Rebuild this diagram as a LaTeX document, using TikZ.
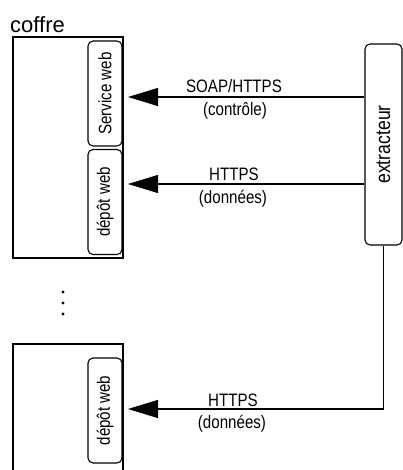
\documentclass[tikz,border=0pt]{standalone}
\usepackage{fontspec}
\setmainfont{Liberation Sans}
\newfontfamily\narrowsf[FakeStretch=0.84]{Liberation Sans}
\usetikzlibrary{arrows.meta}

\newcommand{\vtext}[1]{\rotatebox{90}{#1}}

\tikzset{
  comp/.style={draw, line width=1.1pt, rounded corners=5pt, minimum width=34pt,
    minimum height=105pt, inner sep=0pt, font=\narrowsf\fontsize{18}{21}\selectfont},
  flux/.style={line width=1.1pt, -{Triangle[length=30pt,width=18pt]}},
  lbl/.style={font=\narrowsf\fontsize{18}{21}\selectfont, inner sep=0pt, anchor=base},
  coffrebox/.style={line width=1.4pt}
}

\begin{document}
\begin{tikzpicture}[x=1pt,y=-1pt]
\useasboundingbox (0,0) rectangle (403,470);

% coffre du haut
\draw[coffrebox] (13,37) rectangle (123,258);
\node[anchor=base west, inner sep=0pt, font=\fontsize{22}{25}\selectfont] (coffre) at (10,33) {coffre};
\node[comp] (sw) at (105,93.5) {\vtext{Service web}};
\node[comp] (dw1) at (105,202) {\vtext{dépôt web}};

% les autres coffres
\foreach \y in {292,303,314}
  \fill (63,\y) circle (1.6pt);

% coffre du bas
\draw[coffrebox] (13,470) -- (13,344) -- (123,344) -- (123,470);
\node[comp] (dw2) at (105,410.5) {\vtext{dépôt web}};

% extracteur
\node[comp, minimum width=37pt, minimum height=201pt,
  font=\narrowsf\fontsize{21}{24}\selectfont] (ext) at (383.5,144.5) {\vtext{extracteur}};

\coordinate (t1) at (128,97);
\coordinate (t2) at (128,184);
\coordinate (t3) at (128,409);

\draw[flux] (ext.west |- t1) -- (t1);
\draw[flux] (ext.west |- t2) -- (t2);
\draw[flux] (ext.south) |- (t3);

\node[lbl] (p1) at (234,93) {SOAP/HTTPS};
\node[lbl] (c1) at (235,116) {(contrôle)};
\node[lbl] (p2) at (234,181) {HTTPS};
\node[lbl] (d2) at (233,203) {(données)};
\node[lbl] (p3) at (233,406) {HTTPS};
\node[lbl] (d3) at (232,428) {(données)};
\end{tikzpicture}
\end{document}
